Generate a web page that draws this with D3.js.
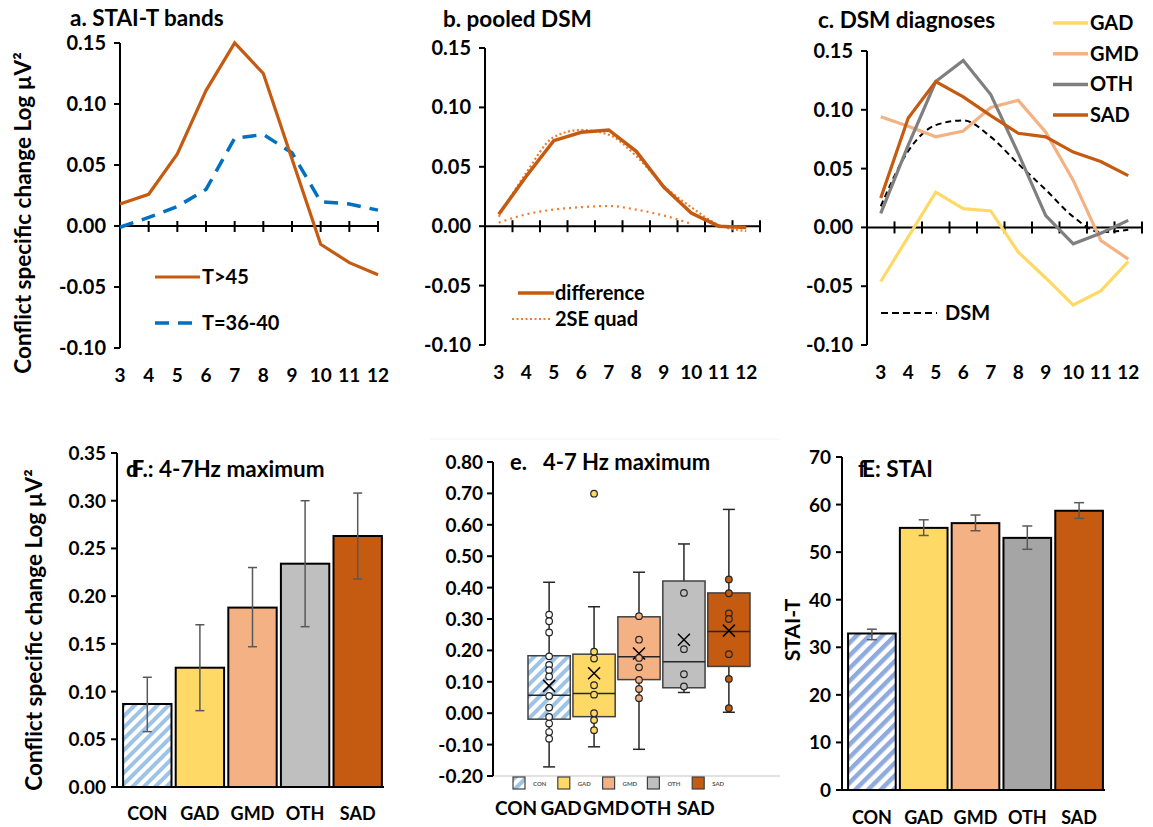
<!DOCTYPE html>
<html>
<head>
<meta charset="utf-8">
<script src="https://cdn.jsdelivr.net/npm/d3@7"></script>
<style>
  body { margin: 0; background: #fff; }
  svg text { font-family: Lato, "Open Sans", sans-serif; font-weight: bold; fill: #000; }
</style>
</head>
<body>
<div class="chart"></div>
<script>
const WIDTH = 1153
const HEIGHT = 827

// data - top row (conflict specific change by frequency, Hz)
const freqs = [3, 4, 5, 6, 7, 8, 9, 10, 11, 12];
const staiHigh = [0.018, 0.026, 0.059, 0.111, 0.150, 0.125, 0.055, -0.015, -0.030, -0.040];
const staiMid = [-0.001, 0.007, 0.016, 0.030, 0.072, 0.075, 0.060, 0.020, 0.018, 0.013];
const pooledDiff = [0.010, 0.042, 0.072, 0.079, 0.081, 0.063, 0.033, 0.011, 0.000, -0.001];
const quadUpper = [0.008, 0.045, 0.075, 0.081, 0.077, 0.059, 0.034, 0.016, 0.001, -0.004];
const quadLower = [0.003, 0.010, 0.014, 0.016, 0.017, 0.014, 0.009, 0.002];
const gadLine = [-0.046, -0.008, 0.030, 0.016, 0.014, -0.021, -0.043, -0.066, -0.054, -0.029];
const gmdLine = [0.094, 0.086, 0.077, 0.082, 0.102, 0.108, 0.081, 0.040, -0.011, -0.027];
const othLine = [0.012, 0.070, 0.124, 0.142, 0.113, 0.063, 0.010, -0.014, -0.005, 0.006];
const sadLine = [0.025, 0.093, 0.124, 0.111, 0.095, 0.080, 0.077, 0.064, 0.056, 0.044];
const dsmLine = [0.018, 0.065, 0.087, 0.091, 0.077, 0.054, 0.032, 0.009, -0.004, -0.002];
const lineTicks = [-0.10, -0.05, 0.00, 0.05, 0.10, 0.15];

// data - bottom row
const groups = ["CON", "GAD", "GMD", "OTH", "SAD"];
const thetaMax = [0.087, 0.125, 0.188, 0.234, 0.263];
const thetaLo = [0.058, 0.080, 0.147, 0.168, 0.218];
const thetaHi = [0.115, 0.170, 0.230, 0.300, 0.308];

const boxMin = [-0.171, -0.107, -0.115, 0.066, 0.003];
const boxQ1 = [-0.019, -0.011, 0.107, 0.081, 0.149];
const boxMed = [0.057, 0.063, 0.180, 0.164, 0.260];
const boxQ3 = [0.183, 0.188, 0.307, 0.421, 0.383];
const boxMax = [0.417, 0.339, 0.449, 0.539, 0.649];
const boxMean = [0.087, 0.127, 0.190, 0.234, 0.263];
const ptsCON = [0.314, 0.293, 0.257, 0.181, 0.154, 0.137, 0.117, 0.055, 0.018, -0.012, -0.033, -0.060, -0.081];
const ptsGAD = [0.699, 0.196, 0.174, 0.089, 0.059, 0.000, -0.022, -0.054];
const ptsGMD = [0.309, 0.234, 0.176, 0.146, 0.106, 0.077, 0.048];
const ptsOTH = [0.383, 0.204, 0.124, 0.085];
const ptsSAD = [0.426, 0.382, 0.318, 0.300, 0.188, 0.109, 0.016];
const boxPoints = [ptsCON, ptsGAD, ptsGMD, ptsOTH, ptsSAD];

const staiT = [32.9, 55.1, 56.1, 53.0, 58.7];
const staiLo = [31.6, 53.5, 54.5, 50.6, 57.1];
const staiHi = [33.8, 56.8, 57.8, 55.5, 60.4];

const fillD = ["url(#hatchD)", "#FFD966", "#F4B183", "#BFBFBF", "#C55A11"];
const fillF = ["url(#hatchF)", "#FFD966", "#F4B183", "#A5A5A5", "#C55A11"];

const svg = d3.select("div.chart")
            .append("svg")
            .attr("width", WIDTH)
            .attr("height", HEIGHT);

// hatch patterns for CON
const defs = svg.append("defs");
function hatch(id, color, w) {
  const p = defs.append("pattern")
      .attr("id", id)
      .attr("patternUnits", "userSpaceOnUse")
      .attr("width", w).attr("height", w)
      .attr("patternTransform", "rotate(45)");
  p.append("rect").attr("width", w).attr("height", w).attr("fill", "#fff");
  p.append("rect").attr("width", w / 2).attr("height", w).attr("fill", color);
}
hatch("hatchD", "#9DC3E6", 8);
hatch("hatchF", "#8FAADC", 9);

function fmt2(d) { return d.toFixed(2); }

// ---------- line panels (a, b, c) ----------
function yAxisLines(g, y, x0) {
  g.append("line").attr("x1", x0).attr("x2", x0)
    .attr("y1", y(-0.10)).attr("y2", y(0.15))
    .attr("stroke", "#000").attr("stroke-width", 2);
  lineTicks.forEach(t => {
    g.append("line").attr("x1", x0 - 6).attr("x2", x0)
      .attr("y1", y(t)).attr("y2", y(t))
      .attr("stroke", "#000").attr("stroke-width", 2);
    g.append("text").attr("x", x0 - 14).attr("y", y(t) + 7)
      .attr("text-anchor", "end").style("font-size", "20px").text(fmt2(t));
  });
}

// a. STAI-T bands
const xA = d3.scalePoint().domain(freqs).range([120, 378]);
const yA = d3.scaleLinear().domain([-0.10, 0.15]).range([348, 43]);
const gA = svg.append("g");
yAxisLines(gA, yA, 120);
gA.append("line").attr("x1", 120).attr("x2", 378).attr("y1", yA(0)).attr("y2", yA(0))
  .attr("stroke", "#000").attr("stroke-width", 2);
freqs.forEach(f => {
  gA.append("line").attr("x1", xA(f)).attr("x2", xA(f))
    .attr("y1", yA(0) - 5).attr("y2", yA(0) + 6)
    .attr("stroke", "#000").attr("stroke-width", 2);
  gA.append("text").attr("x", xA(f)).attr("y", 382).attr("text-anchor", "middle")
    .style("font-size", "19px").text(f);
});
const lineA = d3.line().x((d, i) => xA(freqs[i])).y(d => yA(d));
gA.append("path").datum(staiMid).attr("d", lineA).attr("fill", "none")
  .attr("stroke", "#0070C0").attr("stroke-width", 3.5).attr("stroke-dasharray", "14,9");
gA.append("path").datum(staiHigh).attr("d", lineA).attr("fill", "none")
  .attr("stroke", "#C55A11").attr("stroke-width", 3.2);
gA.append("line").attr("x1", 155).attr("x2", 200).attr("y1", 277).attr("y2", 277)
  .attr("stroke", "#C55A11").attr("stroke-width", 3.2);
gA.append("text").attr("x", 202).attr("y", 284).style("font-size", "20px").text("T>45");
gA.append("line").attr("x1", 155).attr("x2", 200).attr("y1", 323).attr("y2", 323)
  .attr("stroke", "#0070C0").attr("stroke-width", 3.5).attr("stroke-dasharray", "14,9");
gA.append("text").attr("x", 202).attr("y", 330).style("font-size", "20px").text("T=36-40");
gA.append("text").attr("x", 70).attr("y", 26).style("font-size", "22.5px").text("a. STAI-T bands");
gA.append("text").attr("transform", "translate(31,213) rotate(-90)")
  .attr("text-anchor", "middle").style("font-size", "22.5px").text("Conflict specific change Log µV²");

// band-style x axis used by b and c
function bandXAxis(g, x, y, labelY) {
  const x0 = x.range()[0], x1 = x.range()[1];
  g.append("line").attr("x1", x0).attr("x2", x1).attr("y1", y(0)).attr("y2", y(0))
    .attr("stroke", "#000").attr("stroke-width", 2);
  freqs.forEach(f => {
    const xr = x(f) + x.bandwidth();
    g.append("line").attr("x1", xr).attr("x2", xr)
      .attr("y1", y(0) - 6).attr("y2", y(0) + 6)
      .attr("stroke", "#000").attr("stroke-width", 2);
    g.append("text").attr("x", x(f) + x.bandwidth() / 2).attr("y", labelY)
      .attr("text-anchor", "middle").style("font-size", "19px").text(f);
  });
}

// b. pooled DSM
const xB = d3.scaleBand().domain(freqs).range([485, 760]);
const yB = d3.scaleLinear().domain([-0.10, 0.15]).range([345, 48]);
const gB = svg.append("g");
yAxisLines(gB, yB, 485);
bandXAxis(gB, xB, yB, 379);
const cxB = f => xB(f) + xB.bandwidth() / 2;
const lineB = d3.line().x((d, i) => cxB(freqs[i])).y(d => yB(d));
const smoothB = d3.line().x((d, i) => cxB(freqs[i])).y(d => yB(d)).curve(d3.curveMonotoneX);
gB.append("path").datum(quadUpper).attr("d", smoothB).attr("fill", "none")
  .attr("stroke", "#ED7D31").attr("stroke-width", 2.2).attr("stroke-dasharray", "2,2.5");
gB.append("path").datum(quadLower).attr("d", smoothB).attr("fill", "none")
  .attr("stroke", "#ED7D31").attr("stroke-width", 2.2).attr("stroke-dasharray", "2,4");
gB.append("path").datum(pooledDiff).attr("d", lineB).attr("fill", "none")
  .attr("stroke", "#C55A11").attr("stroke-width", 3.5);
gB.append("line").attr("x1", 518).attr("x2", 554).attr("y1", 293).attr("y2", 293)
  .attr("stroke", "#C55A11").attr("stroke-width", 3.5);
gB.append("text").attr("x", 555).attr("y", 300).style("font-size", "20px").text("difference");
gB.append("line").attr("x1", 512).attr("x2", 550).attr("y1", 319).attr("y2", 319)
  .attr("stroke", "#ED7D31").attr("stroke-width", 2.2).attr("stroke-dasharray", "2,2.5");
gB.append("text").attr("x", 555).attr("y", 326).style("font-size", "20px").text("2SE quad");
gB.append("text").attr("x", 443).attr("y", 27).style("font-size", "22.5px").text("b. pooled DSM");

// c. DSM diagnoses
const xC = d3.scaleBand().domain(freqs).range([867, 1142]);
const yC = d3.scaleLinear().domain([-0.10, 0.15]).range([345, 51]);
const gC = svg.append("g");
yAxisLines(gC, yC, 867);
bandXAxis(gC, xC, yC, 379);
const lineC = d3.line().x((d, i) => xC(freqs[i]) + xC.bandwidth() / 2).y(d => yC(d));
const seriesC = [
  { name: "GAD", values: gadLine, color: "#FFD966" },
  { name: "GMD", values: gmdLine, color: "#F4B183" },
  { name: "OTH", values: othLine, color: "#7F7F7F" },
  { name: "SAD", values: sadLine, color: "#C55A11" }
];
gC.append("path").datum(dsmLine).attr("d", lineC.curve(d3.curveMonotoneX)).attr("fill", "none")
  .attr("stroke", "#000").attr("stroke-width", 2).attr("stroke-dasharray", "6,4");
lineC.curve(d3.curveLinear);
seriesC.forEach((s, i) => {
  gC.append("path").datum(s.values).attr("d", lineC).attr("fill", "none")
    .attr("stroke", s.color).attr("stroke-width", 3.2);
  const ly = 23 + i * 30.7;
  gC.append("line").attr("x1", 1053).attr("x2", 1088).attr("y1", ly).attr("y2", ly)
    .attr("stroke", s.color).attr("stroke-width", 3.5);
  gC.append("text").attr("x", 1090).attr("y", ly + 7).style("font-size", "20px").text(s.name);
});
gC.append("line").attr("x1", 881).attr("x2", 937).attr("y1", 313).attr("y2", 313)
  .attr("stroke", "#000").attr("stroke-width", 2).attr("stroke-dasharray", "7,4");
gC.append("text").attr("x", 945).attr("y", 320).style("font-size", "20px").text("DSM");
gC.append("text").attr("x", 818).attr("y", 28).style("font-size", "22.5px").text("c. DSM diagnoses");

// ---------- bar panels (d, f) ----------
function barPanel(x, y, vals, lo, hi, fills, ticks, tickFmt, labelY, capW, tickSize) {
  const g = svg.append("g");
  const x0 = x.range()[0] - 4;
  g.selectAll("rect.bar").data(vals).enter().append("rect")
    .attr("x", (d, i) => x(groups[i]))
    .attr("y", d => y(d))
    .attr("width", x.bandwidth())
    .attr("height", d => y(0) - y(d))
    .attr("fill", (d, i) => fills[i])
    .attr("stroke", "#000").attr("stroke-width", 2);
  vals.forEach((d, i) => {
    const cx = x(groups[i]) + x.bandwidth() / 2;
    g.append("line").attr("x1", cx).attr("x2", cx).attr("y1", y(lo[i])).attr("y2", y(hi[i]))
      .attr("stroke", "#595959").attr("stroke-width", 1.5);
    [lo[i], hi[i]].forEach(v => {
      g.append("line").attr("x1", cx - capW / 2).attr("x2", cx + capW / 2)
        .attr("y1", y(v)).attr("y2", y(v))
        .attr("stroke", "#595959").attr("stroke-width", 1.5);
    });
    g.append("text").attr("x", cx).attr("y", labelY).attr("text-anchor", "middle")
      .style("font-size", "18px").text(groups[i]);
  });
  g.append("line").attr("x1", x0).attr("x2", x0).attr("y1", y.range()[0]).attr("y2", y.range()[1])
    .attr("stroke", "#000").attr("stroke-width", 2);
  g.append("line").attr("x1", x0).attr("x2", x.range()[1]).attr("y1", y(0)).attr("y2", y(0))
    .attr("stroke", "#000").attr("stroke-width", 2);
  ticks.forEach(t => {
    g.append("line").attr("x1", x0 - 6).attr("x2", x0).attr("y1", y(t)).attr("y2", y(t))
      .attr("stroke", "#000").attr("stroke-width", 2);
    g.append("text").attr("x", x0 - 11).attr("y", y(t) + 7).attr("text-anchor", "end")
      .style("font-size", tickSize).text(tickFmt(t));
  });
  return g;
}

// d. 4-7Hz maximum
const xD = d3.scaleBand().domain(groups).range([121, 384]).paddingInner(0.08).paddingOuter(0.04);
const yD = d3.scaleLinear().domain([0, 0.35]).range([787, 453]);
const gD = barPanel(xD, yD, thetaMax, thetaLo, thetaHi, fillD,
  [0, 0.05, 0.10, 0.15, 0.20, 0.25, 0.30, 0.35], fmt2, 820, 9, "19px");
const titleD = gD.append("text").attr("x", 126).attr("y", 477).style("font-size", "22.5px").text("d");
titleD.append("tspan").attr("dx", -7).text("F.: 4-7Hz maximum");
gD.append("text").attr("transform", "translate(42,630) rotate(-90)")
  .attr("text-anchor", "middle").style("font-size", "22.5px").text("Conflict specific change Log µV²");

// f. STAI
const xF = d3.scaleBand().domain(groups).range([846, 1105]).paddingInner(0.08).paddingOuter(0.04);
const yF = d3.scaleLinear().domain([0, 70]).range([790, 457]);
const gF = barPanel(xF, yF, staiT, staiLo, staiHi, fillF,
  [0, 10, 20, 30, 40, 50, 60, 70], d => d, 824, 10, "19px");
const titleF = gF.append("text").attr("x", 858).attr("y", 477).style("font-size", "22.5px").text("f");
titleF.append("tspan").attr("dx", -4).text("E: STAI");
gF.append("text").attr("transform", "translate(800,630) rotate(-90)")
  .attr("text-anchor", "middle").style("font-size", "21px").text("STAI-T");

// ---------- e. box plot ----------
const xE = d3.scaleBand().domain(groups).range([528, 750]).paddingInner(0.06);
const yE = d3.scaleLinear().domain([-0.20, 0.80]).range([776, 462]);
const gE = svg.append("g");
gE.append("line").attr("x1", 430).attr("x2", 780).attr("y1", 439).attr("y2", 439)
  .attr("stroke", "#F2F2F2").attr("stroke-width", 1);
gE.append("line").attr("x1", 493).attr("x2", 780).attr("y1", yE(-0.2)).attr("y2", yE(-0.2))
  .attr("stroke", "#D9D9D9").attr("stroke-width", 1.5);
gE.append("line").attr("x1", 493).attr("x2", 493).attr("y1", yE(-0.2)).attr("y2", yE(0.8))
  .attr("stroke", "#000").attr("stroke-width", 2);
d3.range(-0.2, 0.81, 0.1).forEach(t => {
  gE.append("line").attr("x1", 487).attr("x2", 493).attr("y1", yE(t)).attr("y2", yE(t))
    .attr("stroke", "#000").attr("stroke-width", 2);
  gE.append("text").attr("x", 483).attr("y", yE(t) + 7).attr("text-anchor", "end")
    .style("font-size", "19px").text(Math.abs(t) < 1e-9 ? "0.00" : fmt2(t));
});
groups.forEach((g, i) => {
  const x0 = xE(g), bw = xE.bandwidth(), cx = x0 + bw / 2;
  gE.append("line").attr("x1", cx).attr("x2", cx).attr("y1", yE(boxMin[i])).attr("y2", yE(boxMax[i]))
    .attr("stroke", "#262626").attr("stroke-width", 1.5);
  [boxMin[i], boxMax[i]].forEach(v => {
    gE.append("line").attr("x1", cx - 6).attr("x2", cx + 6).attr("y1", yE(v)).attr("y2", yE(v))
      .attr("stroke", "#262626").attr("stroke-width", 1.5);
  });
  gE.append("rect").attr("x", x0).attr("y", yE(boxQ3[i]))
    .attr("width", bw).attr("height", yE(boxQ1[i]) - yE(boxQ3[i]))
    .attr("fill", fillD[i]).attr("stroke", "#404040").attr("stroke-width", 1.5);
  gE.append("line").attr("x1", x0).attr("x2", x0 + bw).attr("y1", yE(boxMed[i])).attr("y2", yE(boxMed[i]))
    .attr("stroke", "#262626").attr("stroke-width", 1.5);
  const my = yE(boxMean[i]);
  gE.append("path").attr("d", `M${cx - 6},${my - 6}L${cx + 6},${my + 6}M${cx - 6},${my + 6}L${cx + 6},${my - 6}`)
    .attr("stroke", "#000").attr("stroke-width", 1.5);
  gE.selectAll(null).data(boxPoints[i]).enter().append("circle")
    .attr("cx", cx).attr("cy", d => yE(d)).attr("r", 3.3)
    .attr("fill", i === 0 ? "#fff" : fillD[i])
    .attr("stroke", "#262626").attr("stroke-width", 1.2);
  // small legend
  const lx = 513 + i * 44.8;
  gE.append("rect").attr("x", lx).attr("y", 777).attr("width", 12).attr("height", 12)
    .attr("fill", fillD[i]).attr("stroke", "#404040").attr("stroke-width", 1.2);
  gE.append("text").attr("x", lx + 20).attr("y", 786).style("font-size", "6px")
    .style("fill", "#595959").text(g);
  gE.append("text").attr("x", cx - 33).attr("y", 815).attr("text-anchor", "middle")
    .style("font-size", "19px").text(g);
});
gE.append("text").attr("x", 510).attr("y", 470).style("font-size", "22px").text("e.");
gE.append("text").attr("x", 543).attr("y", 470).style("font-size", "22px").text("4-7 Hz maximum");
</script>
</body>
</html>
